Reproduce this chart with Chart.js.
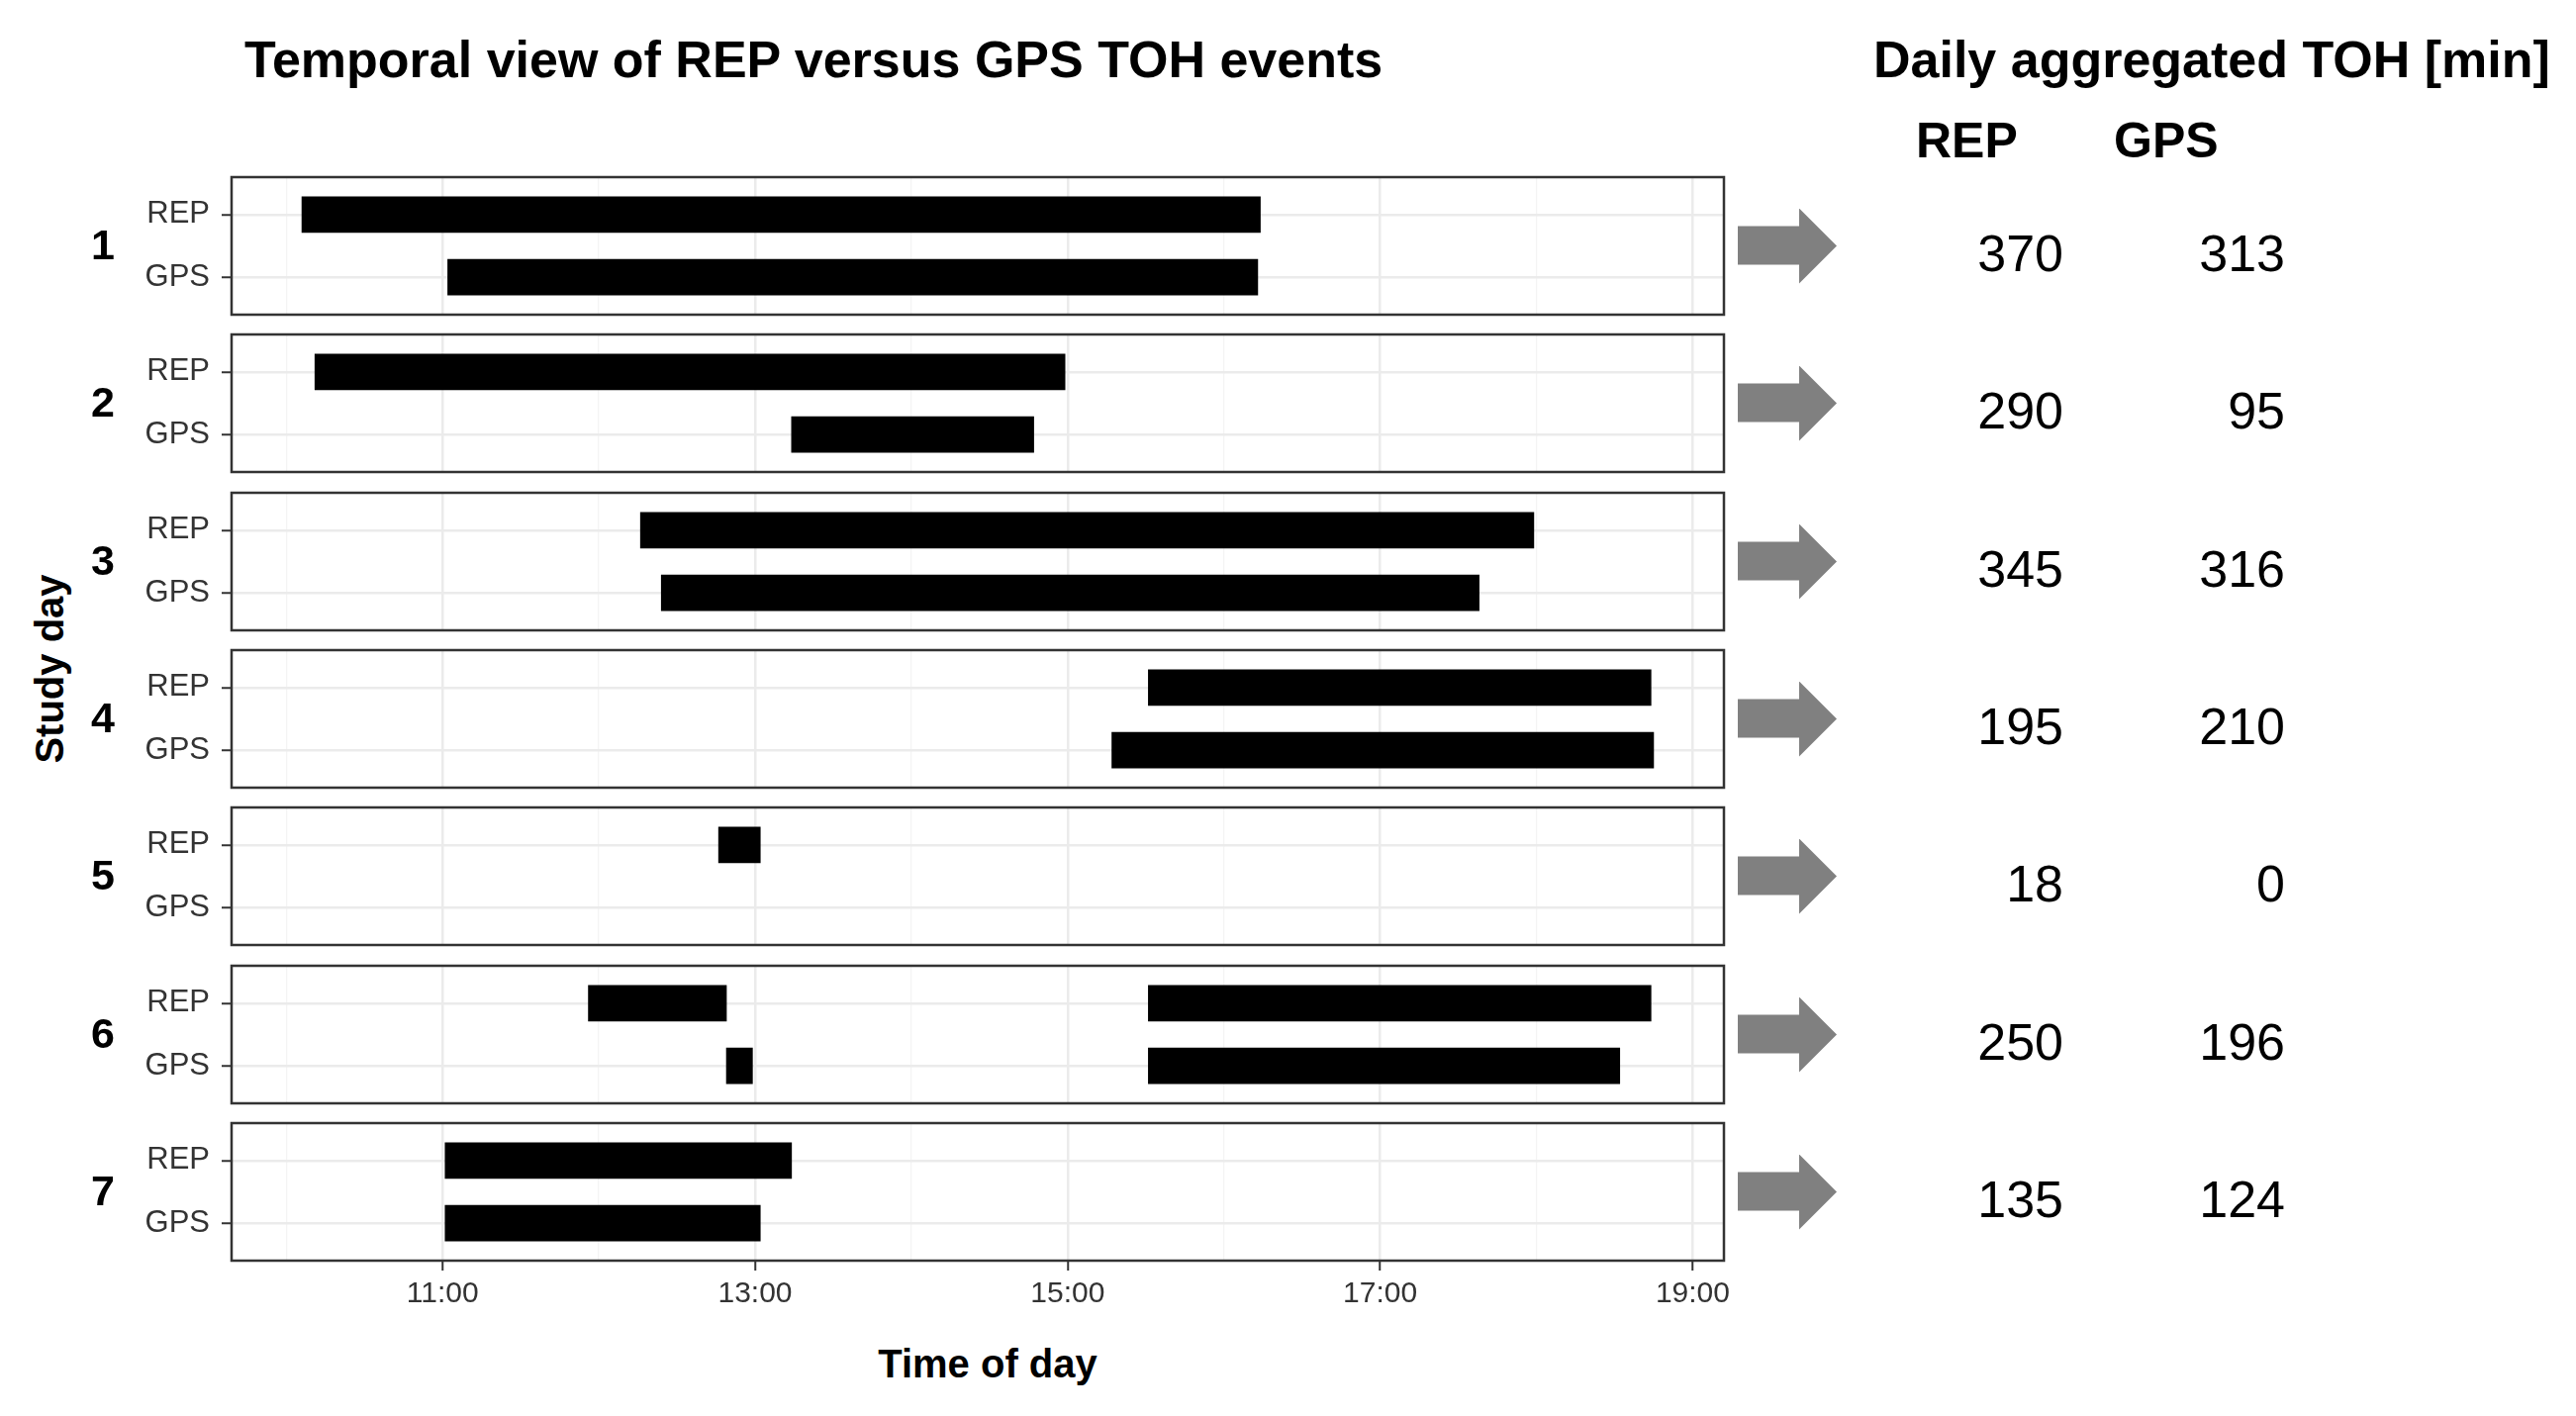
<!DOCTYPE html>
<html>
<head>
<meta charset="utf-8">
<title>Temporal view of REP versus GPS TOH events</title>
<script src="https://cdn.jsdelivr.net/npm/chart.js@4.4.1/dist/chart.umd.min.js"></script>
<style>
    body { margin: 0; background: #fff; }
    #page { position: relative; width: 2603px; height: 1431px; overflow: hidden; font-family: "Liberation Sans", Arial, sans-serif; color: #000; }
    #page canvas { position: absolute; left: 0; }
    .txt { position: absolute; line-height: 1; white-space: nowrap; }
    .bold { font-weight: bold; }
    .arrow { position: absolute; width: 100px; height: 76px; background: #808080;
             clip-path: polygon(0 18px, 62px 18px, 62px 0, 100px 38px, 62px 76px, 62px 57px, 0 57px); }
</style>
</head>
<body>
<div id="page">
    <div class="txt bold" style="left:247px; top:34px; font-size:52px;">Temporal view of REP versus GPS TOH events</div>
    <div class="txt bold" style="left:1893px; top:34px; font-size:52px;">Daily aggregated TOH [min]</div>
    <div class="txt bold" style="left:1936px; top:117px; font-size:50px;">REP</div>
    <div class="txt bold" style="left:2136px; top:117px; font-size:50px;">GPS</div>
    <div class="txt bold" style="left:50px; top:676px; font-size:40px; transform: translate(-50%, -50%) rotate(-90deg);">Study day</div>
    <div class="txt bold" style="left:998px; top:1358px; font-size:40px; transform: translateX(-50%);">Time of day</div>
</div>
<script>

const studyDays = ["1", "2", "3", "4", "5", "6", "7"];
const sources = ["REP", "GPS"];

// TOH events per study day, [start, end] clock time
const repEvents = [
    [["10:06", "16:14"]],
    [["10:11", "14:59"]],
    [["12:16", "17:59"]],
    [["15:31", "18:44"]],
    [["12:46", "13:02"]],
    [["11:56", "12:49"], ["15:31", "18:44"]],
    [["11:01", "13:14"]]
];

const gpsEvents = [
    [["11:02", "16:13"]],
    [["13:14", "14:47"]],
    [["12:24", "17:38"]],
    [["15:17", "18:45"]],
    [],
    [["12:49", "12:59"], ["15:31", "18:32"]],
    [["11:01", "13:02"]]
];

// daily aggregated TOH [min]
const repTotals = [370, 290, 345, 195, 18, 250, 135];
const gpsTotals = [313, 95, 316, 210, 0, 196, 124];

const hourTicks = [11, 13, 15, 17, 19];
const hourGrid = [10, 11, 12, 13, 14, 15, 16, 17, 18, 19];

/*
 * layout
 */
const panelTop = 179;
const panelStep = 159.3;
const panelHeight = 139;
const plotLeft = 234;
const plotRight = 1742;
const canvasWidth = 1760;
const pad = 5;
const axisHeight = 64;

Chart.defaults.font.family = "'Liberation Sans', Arial, sans-serif";

function toHours(t) {
    const [h, m] = t.split(":").map(Number);
    return h + m / 60;
}

const panelBorder = {
    id: "panelBorder",
    afterDraw(chart) {
        const { ctx, chartArea } = chart;
        ctx.save();
        ctx.strokeStyle = "#333333";
        ctx.lineWidth = 2.5;
        ctx.strokeRect(chartArea.left, chartArea.top, chartArea.right - chartArea.left, chartArea.bottom - chartArea.top);
        ctx.restore();
    }
};

const page = document.getElementById("page");

function addText(text, cls, style) {
    const div = document.createElement("div");
    div.className = cls;
    div.style.cssText = style;
    div.textContent = text;
    page.appendChild(div);
}

studyDays.forEach((day, d) => {

    const top = Math.round(panelTop + d * panelStep);
    const isLast = d === studyDays.length - 1;

    const canvas = document.createElement("canvas");
    canvas.width = canvasWidth;
    canvas.height = panelHeight + pad + (isLast ? axisHeight : pad);
    canvas.style.top = (top - pad) + "px";
    page.appendChild(canvas);

    const count = Math.max(repEvents[d].length, gpsEvents[d].length);
    const datasets = [];

    for (let j = 0; j < count; j++) {
        const data = [];
        if (repEvents[d][j]) data.push({ x: repEvents[d][j].map(toHours), y: 0 });
        if (gpsEvents[d][j]) data.push({ x: gpsEvents[d][j].map(toHours), y: 1 });
        datasets.push({
            data: data,
            backgroundColor: "#000000",
            borderWidth: 0,
            barThickness: 36,
            grouped: false
        });
    }

    const isMajor = c => hourTicks.includes(c.tick ? c.tick.value : null);

    new Chart(canvas, {
        type: "bar",
        data: { datasets: datasets },
        options: {
            indexAxis: "y",
            responsive: false,
            animation: false,
            devicePixelRatio: 1,
            events: [],
            layout: {
                padding: { left: 0, right: canvasWidth - plotRight, top: pad, bottom: isLast ? 0 : pad }
            },
            plugins: {
                legend: { display: false },
                tooltip: { enabled: false }
            },
            scales: {
                x: {
                    type: "linear",
                    min: 9.65,
                    max: 19.2,
                    offset: false,
                    afterBuildTicks: scale => { scale.ticks = hourGrid.map(h => ({ value: h })); },
                    afterFit: scale => {
                        scale.height = isLast ? axisHeight : 0;
                        scale.paddingLeft = 0;
                        scale.paddingRight = 0;
                    },
                    border: { display: false },
                    grid: {
                        offset: false,
                        color: c => isMajor(c) ? "#EBEBEB" : "#F4F4F4",
                        lineWidth: c => isMajor(c) ? 2.5 : 1.3,
                        drawTicks: isLast,
                        tickLength: 10,
                        tickWidth: 2,
                        tickColor: c => isMajor(c) ? "#333333" : "rgba(0,0,0,0)"
                    },
                    ticks: {
                        display: isLast,
                        autoSkip: false,
                        maxRotation: 0,
                        padding: 6,
                        color: "#333333",
                        font: { size: 30 },
                        callback: v => hourTicks.includes(v) ? v + ":00" : ""
                    }
                },
                y: {
                    type: "linear",
                    reverse: true,
                    min: -0.6,
                    max: 1.6,
                    offset: false,
                    afterBuildTicks: scale => { scale.ticks = sources.map((s, i) => ({ value: i })); },
                    afterFit: scale => {
                        scale.width = plotLeft;
                        scale.paddingTop = 0;
                        scale.paddingBottom = 0;
                    },
                    border: { display: false },
                    grid: {
                        offset: false,
                        color: "#EBEBEB",
                        lineWidth: 2.5,
                        tickLength: 10,
                        tickWidth: 2,
                        tickColor: "#333333"
                    },
                    ticks: {
                        padding: 12,
                        color: "#333333",
                        font: { size: 31 },
                        callback: v => sources[v]
                    }
                }
            }
        },
        plugins: [panelBorder]
    });

    // day number, arrow and daily totals beside the panel
    const cy = top + panelHeight / 2;

    addText(day, "txt bold", `left:74px; width:60px; text-align:center; top:${cy - 23}px; font-size:43px;`);

    const arrow = document.createElement("div");
    arrow.className = "arrow";
    arrow.style.left = "1756px";
    arrow.style.top = (cy - 38) + "px";
    page.appendChild(arrow);

    addText(String(repTotals[d]), "txt", `right:518px; top:${cy - 19}px; font-size:52px;`);
    addText(String(gpsTotals[d]), "txt", `right:294px; top:${cy - 19}px; font-size:52px;`);

});

</script>
</body>
</html>
